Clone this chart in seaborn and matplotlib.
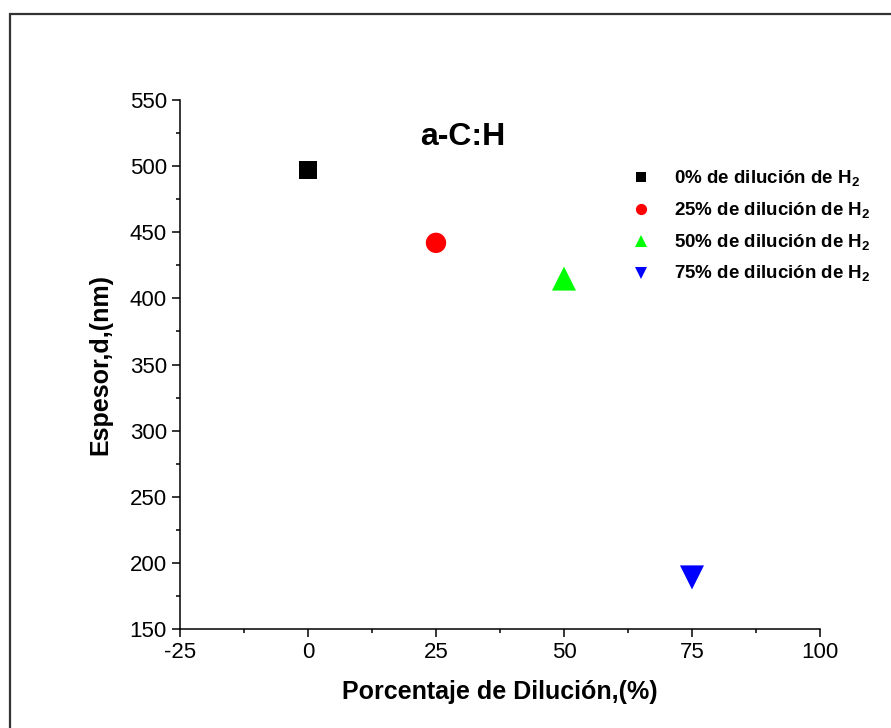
import matplotlib
matplotlib.use("Agg")
import matplotlib.pyplot as plt
from matplotlib.patches import Rectangle
from matplotlib.ticker import MultipleLocator
import seaborn as sns
import pandas as pd

# H2 dilution (%) and measured film thickness (nm) for a-C:H films
dilution = [0, 25, 50, 75]
thickness = [497, 442, 415, 189]
series = [r"0% de dilución de H$_\mathbf{2}$",
          r"25% de dilución de H$_\mathbf{2}$",
          r"50% de dilución de H$_\mathbf{2}$",
          r"75% de dilución de H$_\mathbf{2}$"]
colors = ["#000000", "#ff0000", "#00ff00", "#0000ff"]
markers = ["s", "o", "^", "v"]
marker_area = [170, 215, 300, 300]

sns.set_theme(style="white")
plt.rcParams["font.family"] = ["Liberation Sans", "DejaVu Sans"]
plt.rcParams["mathtext.fontset"] = "custom"
plt.rcParams["mathtext.rm"] = "Liberation Sans"
plt.rcParams["mathtext.bf"] = "Liberation Sans:bold"
plt.rcParams["axes.unicode_minus"] = False
plt.rcParams["text.color"] = "black"
plt.rcParams["axes.labelcolor"] = "black"

df = pd.DataFrame({"x": dilution, "y": thickness, "serie": series})

fig = plt.figure(figsize=(8.91, 7.28), dpi=100)
ax = fig.add_axes([0.2020, 0.1360, 0.7183, 0.7266])

sns.scatterplot(data=df, x="x", y="y", hue="serie", style="serie",
                size="serie",
                palette=dict(zip(series, colors)),
                markers=dict(zip(series, markers)),
                sizes=dict(zip(series, marker_area)),
                edgecolor="none", ax=ax, legend=True)

ax.set_xlim(-25, 100)
ax.set_ylim(150, 550)
ax.xaxis.set_major_locator(MultipleLocator(25))
ax.xaxis.set_minor_locator(MultipleLocator(12.5))
ax.yaxis.set_major_locator(MultipleLocator(50))
ax.yaxis.set_minor_locator(MultipleLocator(25))

for side in ["top", "right"]:
    ax.spines[side].set_visible(False)
for side in ["left", "bottom"]:
    ax.spines[side].set_color("black")
    ax.spines[side].set_linewidth(1.1)

ax.tick_params(which="major", direction="out", length=5.5, width=1.1,
               color="black", labelsize=16, labelcolor="black",
               bottom=True, left=True, pad=4)
ax.tick_params(which="minor", direction="out", length=3, width=1.1,
               color="black", bottom=True, left=True)

ax.set_xlabel("Porcentaje de Dilución,(%)", fontsize=18, fontweight="bold",
              labelpad=12)
ax.set_ylabel("Espesor,d,(nm)", fontsize=18, fontweight="bold", labelpad=12)

ax.text(30.3, 522, "a-C:H", fontsize=23, fontweight="bold",
        ha="center", va="center")

leg = ax.legend(loc="upper left", bbox_to_anchor=(0.68, 0.885),
                frameon=False, fontsize=13.5,
                handletextpad=0.73, labelspacing=0.62, borderaxespad=0)
legend_area = [55, 65, 80, 80]
for h, a in zip(leg.legend_handles, legend_area):
    h.set_markersize(a ** 0.5)
for t in leg.get_texts():
    t.set_fontweight("bold")

# figure outline (top and left edges visible)
fig.patches.append(Rectangle((9.5 / 891, -0.1), 1.2, 1.1 - 14.5 / 728,
                             transform=fig.transFigure, fill=False,
                             edgecolor="#333333", linewidth=1.6))

fig.savefig("out.png", dpi=100)
